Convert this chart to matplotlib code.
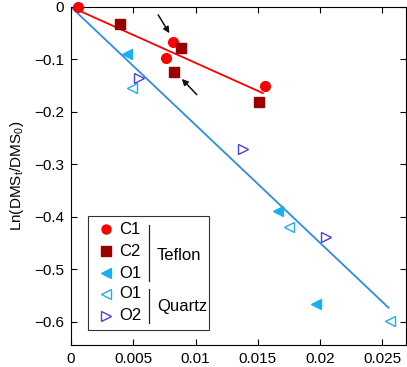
import matplotlib
matplotlib.use('Agg')
import matplotlib.pyplot as plt
from matplotlib.patches import Rectangle
from matplotlib.lines import Line2D
import numpy as np

plt.rcParams['font.family'] = ['Liberation Sans', 'DejaVu Sans']
plt.rcParams['mathtext.fontset'] = 'custom'
plt.rcParams['mathtext.rm'] = 'Liberation Sans'

# --- data ---
c1_x = [0.00056, 0.0082, 0.0076, 0.0156]
c1_y = [0.0, -0.067, -0.097, -0.150]
c2_x = [0.0039, 0.0088, 0.0083, 0.0151]
c2_y = [-0.033, -0.078, -0.124, -0.181]
o1t_x = [0.0045, 0.0166, 0.0197]
o1t_y = [-0.090, -0.389, -0.566]
o1q_x = [0.0049, 0.0175, 0.0256]
o1q_y = [-0.154, -0.419, -0.598]
o2q_x = [0.0055, 0.0138, 0.0205]
o2q_y = [-0.135, -0.271, -0.438]

teflon_fit_x = [0.0, 0.0154]
teflon_fit_y = [0.0, -0.164]
quartz_fit_x = [0.0, 0.0255]
quartz_fit_y = [0.0, -0.573]

RED = '#ff0000'
DARKRED = '#990000'
LBLUE = '#1ab0f0'
LINEBLUE = '#2b8de3'
PURPLE = '#4a3fd8'

fig = plt.figure(figsize=(4.07, 3.67), dpi=100)
ax = fig.add_axes([71 / 407, 1 - 345 / 367, 335 / 407, 338 / 367])

ax.plot(teflon_fit_x, teflon_fit_y, '-', color=RED, lw=1.3)
ax.plot(quartz_fit_x, quartz_fit_y, '-', color=LINEBLUE, lw=1.3)

ax.plot(c1_x, c1_y, 'o', color=RED, ms=7, clip_on=False, zorder=5)
ax.plot(c2_x, c2_y, 's', color=DARKRED, ms=7, zorder=5)
ax.plot(o1t_x, o1t_y, '<', color=LBLUE, ms=7, zorder=5)
ax.plot(o1q_x, o1q_y, '<', mfc='none', mec=LBLUE, ms=7, mew=1, zorder=5)
ax.plot(o2q_x, o2q_y, '>', mfc='none', mec=PURPLE, ms=7, mew=1, zorder=5)

# arrows pointing at the two highlighted points
arrow = dict(arrowstyle='-|>', color='#111111', lw=1.1, mutation_scale=9, shrinkA=0, shrinkB=0)
ax.annotate('', xy=(0.0079, -0.050), xytext=(0.0070, -0.015), arrowprops=arrow)
ax.annotate('', xy=(0.0089, -0.137), xytext=(0.0101, -0.167), arrowprops=arrow)

ax.set_xlim(0, 0.0269)
ax.set_ylim(-0.644, 0)
ax.set_xticks([0, 0.005, 0.01, 0.015, 0.02, 0.025])
ax.set_xticklabels(['0', '0.005', '0.01', '0.015', '0.02', '0.025'])
ax.set_yticks([0, -0.1, -0.2, -0.3, -0.4, -0.5, -0.6])
ax.set_yticklabels(['0', '\u22120.1', '\u22120.2', '\u22120.3', '\u22120.4', '\u22120.5', '\u22120.6'])
ax.tick_params(direction='in', top=True, right=True, length=4, width=0.8, labelsize=11, pad=5)
for s in ax.spines.values():
    s.set_linewidth(0.8)
ax.set_ylabel(r'Ln(DMS$_\mathregular{t}$/DMS$_\mathregular{0}$)', fontsize=11, labelpad=6)


# --- hand-made legend with group labels ---
def fx(px):
    return (px - 71) / 335.0


def fy(py):
    return (345 - py) / 338.0


tr = ax.transAxes
ax.add_patch(Rectangle((fx(88), fy(330)), fx(209) - fx(88), fy(216) - fy(330),
                       transform=tr, fc='white', ec='#333333', lw=0.8, zorder=6))
entries = [('o', RED, RED, 'C1', 229), ('s', DARKRED, DARKRED, 'C2', 251),
           ('<', LBLUE, LBLUE, 'O1', 273), ('<', 'none', LBLUE, 'O1', 294),
           ('>', 'none', PURPLE, 'O2', 316)]
for mk, fc, ec, lab, py in entries:
    ax.add_line(Line2D([fx(106)], [fy(py)], marker=mk, mfc=fc, mec=ec, ms=6.5,
                       transform=tr, zorder=7, clip_on=False))
    ax.text(fx(119), fy(py), lab, transform=tr, fontsize=12, va='center', ha='left', zorder=7)
ax.add_line(Line2D([fx(149), fx(149)], [fy(225), fy(281)], color='#222222', lw=0.9,
                   transform=tr, zorder=7))
ax.add_line(Line2D([fx(149), fx(149)], [fy(289), fy(323)], color='#222222', lw=0.9,
                   transform=tr, zorder=7))
ax.text(fx(157), fy(255), 'Teflon', transform=tr, fontsize=12, va='center', ha='left', zorder=7)
ax.text(fx(157), fy(306), 'Quartz', transform=tr, fontsize=12, va='center', ha='left', zorder=7)

fig.savefig('out.png', dpi=100)
